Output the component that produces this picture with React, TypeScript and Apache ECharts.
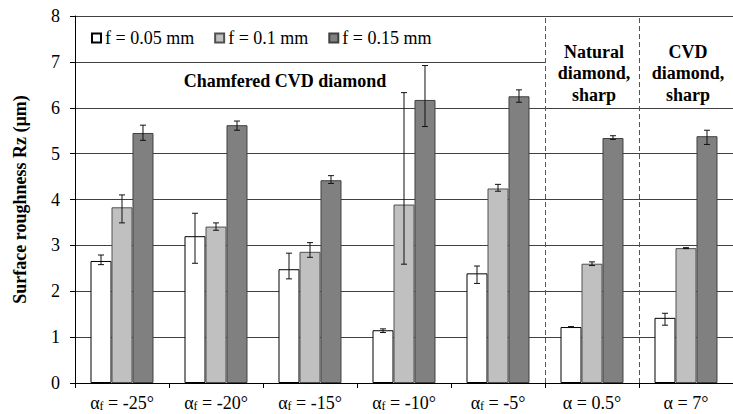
import React, { useEffect, useRef } from "react";
import * as echarts from "echarts";

const categories = ["α_f = -25°", "α_f = -20°", "α_f = -15°", "α_f = -10°", "α_f = -5°", "α = 0.5°", "α = 7°"];
const seriesNames = ["f = 0.05 mm", "f = 0.1 mm", "f = 0.15 mm"];
const f005 = [2.66, 3.2, 2.48, 1.15, 2.39, 1.22, 1.42];
const f01 = [3.83, 3.41, 2.86, 3.89, 4.24, 2.6, 2.94];
const f015 = [5.45, 5.62, 4.42, 6.17, 6.25, 5.34, 5.38];
const f005Low = [2.58, 2.61, 2.27, 1.1, 2.17, 1.21, 1.26];
const f005High = [2.79, 3.7, 2.83, 1.18, 2.55, 1.23, 1.52];
const f01Low = [3.49, 3.33, 2.74, 2.59, 4.18, 2.56, 2.93];
const f01High = [4.1, 3.49, 3.06, 6.33, 4.33, 2.64, 2.95];
const f015Low = [5.29, 5.51, 4.35, 5.59, 6.12, 5.31, 5.2];
const f015High = [5.62, 5.71, 4.52, 6.92, 6.39, 5.39, 5.51];
const separators = [5, 6];

const FONT = "'Liberation Serif', 'Times New Roman', serif";

export default function App() {
  const ref = useRef<HTMLDivElement>(null);
  useEffect(() => {
    document.body.style.margin = "0";
    const chart = echarts.init(ref.current!, null, { renderer: "svg" });
    const values = [f005, f01, f015];
    const lows = [f005Low, f01Low, f015Low];
    const highs = [f005High, f01High, f015High];
    const fills = ["#ffffff", "#c0c0c0", "#808080"];
    const borders = ["#000000", "#505050", "#404040"];
    const gapRatio = 0.33;

    const barSeries = values.map((v, i) => ({
      name: seriesNames[i],
      type: "bar",
      data: v,
      barGap: "0%",
      barCategoryGap: "33%",
      itemStyle: { color: fills[i], borderColor: borders[i], borderWidth: 1 },
      z: 2,
    }));

    const errSeries = values.map((v, s) => ({
      type: "custom",
      name: "err" + s,
      xAxisIndex: 0,
      yAxisIndex: 0,
      z: 5,
      silent: true,
      data: v.map((_, k) => [k, lows[s][k], highs[s][k]]),
      encode: { x: 0, y: [1, 2] },
      renderItem: (params: any, api: any) => {
        const k = api.value(0);
        const lo = api.coord([k, api.value(1)]);
        const hi = api.coord([k, api.value(2)]);
        const band = api.size([1, 0])[0];
        const bw = (band * (1 - gapRatio)) / 3;
        const x = lo[0] + (s - 1) * bw;
        const cap = 3;
        const style = { stroke: "#111", lineWidth: 1 };
        return {
          type: "group",
          children: [
            { type: "line", shape: { x1: x, y1: lo[1], x2: x, y2: hi[1] }, style },
            { type: "line", shape: { x1: x - cap, y1: lo[1], x2: x + cap, y2: lo[1] }, style },
            { type: "line", shape: { x1: x - cap, y1: hi[1], x2: x + cap, y2: hi[1] }, style },
          ],
        };
      },
    }));

    const option: any = {
      animation: false,
      textStyle: { fontFamily: FONT },
      grid: { left: 75, right: 0, top: 16, bottom: 31, containLabel: false },
      legend: {
        data: seriesNames,
        left: 91,
        top: 29,
        padding: 0,
        itemWidth: 9,
        itemHeight: 9,
        itemGap: 20,
        icon: "rect",
        textStyle: { fontFamily: FONT, fontSize: 18, color: "#000", padding: [0, 0, 0, -1] },
      },
      xAxis: [
        {
          type: "category",
          data: categories,
          axisLine: { lineStyle: { color: "#000" } },
          axisTick: { show: true, length: 5, lineStyle: { color: "#000" } },
          axisLabel: {
            margin: 9,
            interval: 0,
            formatter: (val: string) => {
              const m = val.split("_");
              if (m.length > 1) {
                const rest = m[1].slice(1);
                return "{a|" + m[0] + "}{s|" + m[1][0] + "}{a|" + rest + "}";
              }
              return "{a|" + val + "}";
            },
            rich: {
              a: { fontFamily: FONT, fontSize: 18, color: "#000", lineHeight: 20, verticalAlign: "bottom" },
              s: { fontFamily: FONT, fontSize: 12, color: "#000", lineHeight: 20, verticalAlign: "bottom", padding: [6, 0, 0, 0] },
            },
          },
        },
        { type: "value", min: 0, max: 7, show: false },
      ],
      yAxis: {
        type: "value",
        min: 0,
        max: 8,
        interval: 1,
        name: "Surface roughness Rz (µm)",
        nameLocation: "middle",
        nameGap: 46,
        nameTextStyle: { fontFamily: FONT, fontSize: 18, fontWeight: "bold", color: "#000" },
        axisLine: { show: true, lineStyle: { color: "#000" } },
        axisTick: { show: true, length: 5, lineStyle: { color: "#000" } },
        axisLabel: { fontFamily: FONT, fontSize: 18, color: "#000", margin: 15 },
        splitLine: { lineStyle: { color: "#404040", width: 1 } },
      },
      series: [
        ...barSeries,
        ...errSeries,
        {
          type: "line",
          name: "mask",
          xAxisIndex: 1,
          yAxisIndex: 0,
          data: [],
          z: 3,
          silent: true,
          markArea: {
            silent: true,
            itemStyle: { color: "#ffffff" },
            data: [[{ xAxis: 5, yAxis: 6.4 }, { xAxis: 7, yAxis: 7.6 }]],
          },
        },
        {
          type: "line",
          name: "sep",
          xAxisIndex: 1,
          yAxisIndex: 0,
          data: [],
          z: 6,
          silent: true,
          markLine: {
            silent: true,
            symbol: "none",
            label: { show: false },
            lineStyle: { type: [5, 3], color: "#555", width: 1 },
            data: separators.map((x) => ({ xAxis: x })),
          },
        },
      ],
      graphic: [
        {
          type: "text",
          x: 285,
          y: 72,
          z: 10,
          style: { text: "Chamfered CVD diamond", fontFamily: FONT, fontSize: 18, fontWeight: "bold", fill: "#000", align: "center" },
        },
        {
          type: "text",
          x: 594,
          y: 41,
          z: 10,
          style: {
            text: "Natural\ndiamond,\nsharp",
            fontFamily: FONT,
            fontSize: 18,
            fontWeight: "bold",
            fill: "#000",
            align: "center",
            lineHeight: 21.5,
          },
        },
        {
          type: "text",
          x: 688,
          y: 41,
          z: 10,
          style: {
            text: "CVD\ndiamond,\nsharp",
            fontFamily: FONT,
            fontSize: 18,
            fontWeight: "bold",
            fill: "#000",
            align: "center",
            lineHeight: 21.5,
          },
        },
      ],
    };
    chart.setOption(option);
    return () => chart.dispose();
  }, []);
  return <div ref={ref} style={{ width: 733, height: 414 }} />;
}
